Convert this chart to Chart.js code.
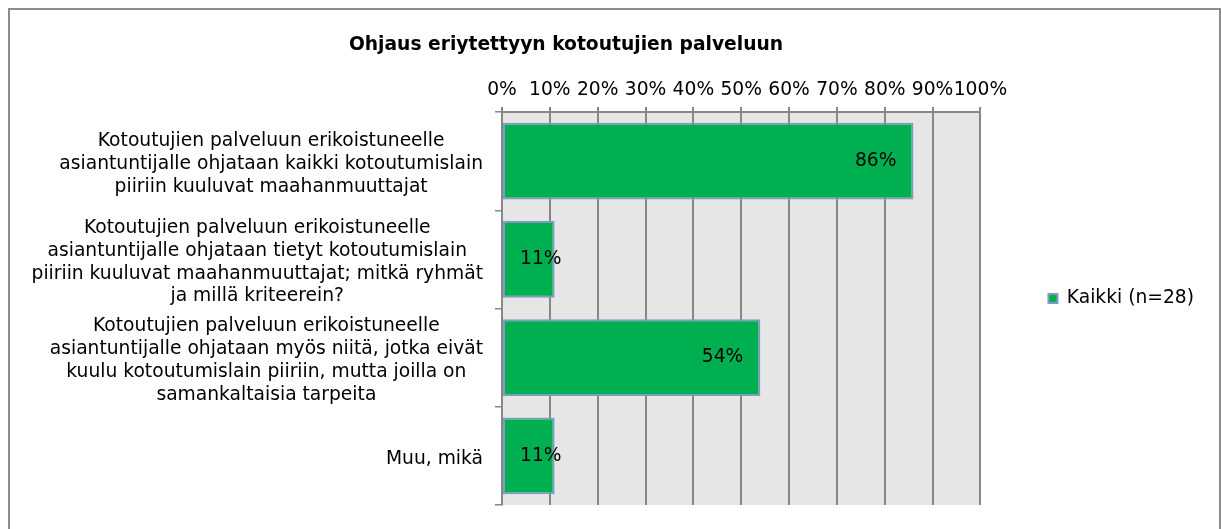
<!DOCTYPE html>
<html>
<head>
<meta charset="utf-8">
<script src="https://cdn.jsdelivr.net/npm/chart.js@4/dist/chart.umd.min.js"></script>
<style>
  html, body { margin: 0; padding: 0; background: #fff; }
  canvas { display: block; }
</style>
</head>
<body>
<canvas id="chart" width="1221" height="529"></canvas>
<script>
// data
const title = 'Ohjaus eriytettyyn kotoutujien palveluun';
const categories = [
    ['Kotoutujien palveluun erikoistuneelle', 'asiantuntijalle ohjataan kaikki kotoutumislain', 'piiriin kuuluvat maahanmuuttajat'],
    ['Kotoutujien palveluun erikoistuneelle', 'asiantuntijalle ohjataan tietyt kotoutumislain', 'piiriin kuuluvat maahanmuuttajat; mitkä ryhmät', 'ja millä kriteerein?'],
    ['Kotoutujien palveluun erikoistuneelle', 'asiantuntijalle ohjataan myös niitä, jotka eivät', 'kuulu kotoutumislain piiriin, mutta joilla on', 'samankaltaisia tarpeita'],
    ['Muu, mikä']
];
const seriesName = 'Kaikki (n=28)';
const values = [86, 11, 54, 11];
const xTicks = [0, 10, 20, 30, 40, 50, 60, 70, 80, 90, 100];

const FONT = 'DejaVu Sans';
const SIZE = 18.7;
const GRID = '#878787';

Chart.defaults.font.family = FONT;
Chart.defaults.font.size = SIZE;
Chart.defaults.color = '#000';

// frame + grey plot background
const backdrop = {
    id: 'backdrop',
    beforeDraw(chart) {
        const { ctx, chartArea: a } = chart;
        ctx.save();
        ctx.fillStyle = '#e6e6e6';
        ctx.fillRect(a.left, a.top, a.right - a.left, a.bottom - a.top);
        ctx.strokeStyle = '#8c8c8c';
        ctx.lineWidth = 2;
        ctx.strokeRect(9, 9, 1211, 600);
        ctx.restore();
    }
};

// title sits left of centre in the original
const titleText = {
    id: 'titleText',
    afterDraw(chart) {
        const { ctx } = chart;
        ctx.save();
        ctx.font = `bold ${SIZE}px "${FONT}"`;
        ctx.fillStyle = '#000';
        ctx.textAlign = 'center';
        ctx.textBaseline = 'alphabetic';
        ctx.fillText(title, 566, 50);
        ctx.restore();
    }
};

// category labels: each block right aligned, lines centred in the block
const categoryLabels = {
    id: 'categoryLabels',
    afterDraw(chart) {
        const { ctx } = chart;
        const y = chart.scales.y;
        const lh = 22.7;
        const right = y.right - 19;
        ctx.save();
        ctx.font = `${SIZE}px "${FONT}"`;
        ctx.fillStyle = '#000';
        ctx.textAlign = 'center';
        ctx.textBaseline = 'middle';
        categories.forEach((lines, i) => {
            const w = Math.max(...lines.map(l => ctx.measureText(l).width));
            const cx = right - w / 2;
            const top = y.getPixelForValue(i) + 3 - (lines.length - 1) * lh / 2;
            lines.forEach((l, j) => ctx.fillText(l, cx, top + j * lh));
        });
        ctx.restore();
    }
};

// value labels at inside end, pushed to inside base when the bar is short
const valueLabels = {
    id: 'valueLabels',
    afterDatasetsDraw(chart) {
        const { ctx } = chart;
        const meta = chart.getDatasetMeta(0);
        ctx.save();
        ctx.font = `${SIZE}px "${FONT}"`;
        ctx.fillStyle = '#000';
        ctx.textAlign = 'left';
        ctx.textBaseline = 'middle';
        meta.data.forEach((bar, i) => {
            const txt = values[i] + '%';
            const w = ctx.measureText(txt).width;
            const x = Math.max(bar.x - 17 - w, bar.base + 17);
            ctx.fillText(txt, x, bar.y);
        });
        ctx.restore();
    }
};

// nudge the legend down a little to sit where the original has it
const legendShift = {
    id: 'legendShift',
    afterLayout(chart) {
        chart.legend.top += 7;
        chart.legend.bottom += 7;
    }
};

new Chart(document.getElementById('chart'), {
    type: 'bar',
    data: {
        labels: categories.map(c => c.join(' ')),
        datasets: [{
            label: seriesName,
            data: values,
            backgroundColor: '#00b050',
            borderColor: '#7f9cc0',
            borderWidth: 2,
            borderSkipped: false,
            categoryPercentage: 0.78,
            barPercentage: 1
        }]
    },
    options: {
        indexAxis: 'y',
        responsive: false,
        animation: false,
        devicePixelRatio: 1,
        layout: { padding: { left: 10, top: 78, right: 17, bottom: 24 } },
        scales: {
            x: {
                position: 'top',
                min: 0,
                max: 100,
                afterBuildTicks(scale) {
                    scale.ticks = xTicks.map(v => ({ value: v }));
                },
                afterFit(scale) { scale.height = 34; },
                ticks: {
                    padding: 6,
                    maxRotation: 0,
                    autoSkip: false,
                    callback: v => v + '%'
                },
                grid: { color: GRID, lineWidth: 2, tickLength: 5 },
                border: { color: GRID, width: 2 }
            },
            y: {
                afterFit(scale) { scale.width = 492; },
                ticks: { display: false },
                grid: { drawOnChartArea: false, color: GRID, lineWidth: 1.5, tickLength: 7 },
                border: { color: GRID, width: 2 }
            }
        },
        plugins: {
            legend: {
                position: 'right',
                labels: { boxWidth: 9, boxHeight: 9, padding: 68, color: '#000' }
            },
            title: { display: false },
            tooltip: { enabled: false }
        }
    },
    plugins: [backdrop, titleText, categoryLabels, valueLabels, legendShift]
});
</script>
</body>
</html>
